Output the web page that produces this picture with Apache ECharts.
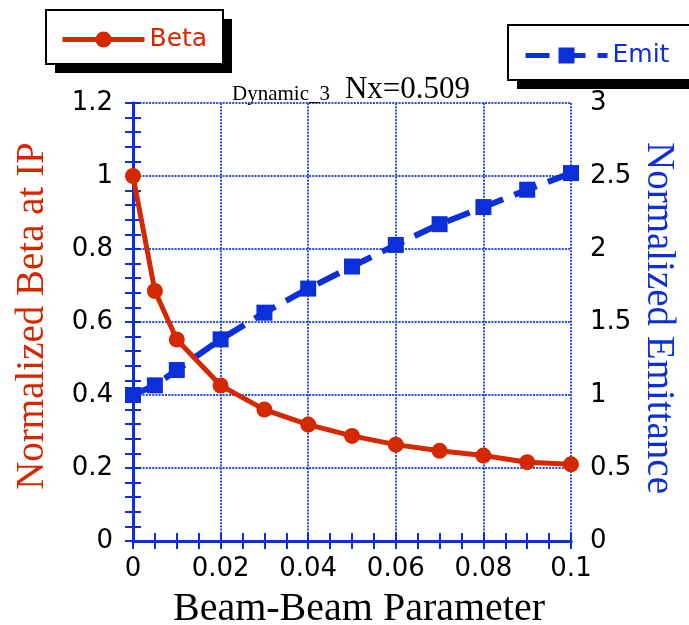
<!DOCTYPE html>
<html>
<head>
<meta charset="utf-8">
<script src="https://cdn.jsdelivr.net/npm/echarts@6/dist/echarts.min.js"></script>
<style>
  html, body { margin: 0; padding: 0; background: #ffffff; }
  #chart { width: 689px; height: 625px; }
</style>
</head>
<body>
<div id="chart"></div>
<script>
// Beam-beam parameter scan points
const beamBeam = [0, 0.005, 0.01, 0.02, 0.03, 0.04, 0.05, 0.06, 0.07, 0.08, 0.09, 0.1];
// Normalized beta at the IP (left axis)
const betaValues = [1.0, 0.685, 0.552, 0.426, 0.360, 0.319, 0.288, 0.264, 0.247, 0.234, 0.216, 0.210];
// Normalized emittance (right axis)
const emitValues = [1.0, 1.066, 1.171, 1.381, 1.564, 1.729, 1.880, 2.028, 2.170, 2.287, 2.406, 2.520];

const xTicks = [0, 0.02, 0.04, 0.06, 0.08, 0.1];
const betaTicks = [0, 0.2, 0.4, 0.6, 0.8, 1, 1.2];
const emitTicks = [0, 0.5, 1, 1.5, 2, 2.5, 3];

const RED = '#d42800';
const BLUE = '#0b2fd8';
const GRID_BLUE = '#2a4ce2';
const SERIF = '"Liberation Serif", "Times New Roman", serif';
const SANS = '"DejaVu Sans", Verdana, sans-serif';

const pairs = (xs, ys) => xs.map((x, i) => [x, ys[i]]);

const frameLine = { show: true, lineStyle: { color: BLUE, width: 3 } };
const innerTicks = { show: true, inside: true, length: 8, lineStyle: { color: BLUE, width: 2 } };
const minorInner = (n) => ({ show: true, splitNumber: n, length: 8, lineStyle: { color: BLUE, width: 2 } });
const dottedGrid = { show: true, lineStyle: { color: GRID_BLUE, width: 2, type: [2, 1.2] } };

// Boxed legend frame with a hard black drop shadow
function legendFrame(x, y, w, h) {
  return [
    { type: 'rect', z: 0, silent: true, shape: { x: x + 9, y: y + 9, width: w, height: h }, style: { fill: '#000000' } },
    { type: 'rect', z: 1, silent: true, shape: { x: x, y: y, width: w, height: h }, style: { fill: '#ffffff', stroke: '#000000', lineWidth: 2 } }
  ];
}

const legendCommon = {
  padding: 0,
  itemWidth: 82,
  itemHeight: 20,
  itemGap: 6,
  z: 10,
  lineStyle: { width: 5 }
};

const chart = echarts.init(document.getElementById('chart'), null, { renderer: 'canvas' });

chart.setOption({
  backgroundColor: '#ffffff',
  animation: false,
  title: {
    text: '{a|Dynamic_3}   {b|Nx=0.509}',
    left: 227,
    top: 69,
    textStyle: {
      fontWeight: 'normal',
      rich: {
        a: { fontFamily: SERIF, fontSize: 21, fontWeight: 'normal', color: '#000', verticalAlign: 'bottom' },
        b: { fontFamily: SERIF, fontSize: 31, fontWeight: 'normal', color: '#000', verticalAlign: 'bottom' }
      }
    }
  },
  graphic: [].concat(legendFrame(46, 10, 177, 54), legendFrame(508, 25, 200, 55)),
  legend: [
    Object.assign({}, legendCommon, {
      data: ['Beta'],
      left: 60,
      top: 27,
      textStyle: { color: RED, fontFamily: SANS, fontSize: 25 }
    }),
    Object.assign({}, legendCommon, {
      data: ['Emit'],
      left: 523,
      top: 43,
      textStyle: { color: BLUE, fontFamily: SANS, fontSize: 25 }
    })
  ],
  grid: {
    left: 133,
    right: 118,
    top: 103,
    bottom: 84,
    containLabel: false,
    outerBoundsMode: 'none'
  },
  xAxis: [
    {
      type: 'value',
      position: 'bottom',
      min: xTicks[0],
      max: xTicks[xTicks.length - 1],
      interval: 0.02,
      name: 'Beam-Beam Parameter',
      nameLocation: 'middle',
      nameGap: 48,
      nameMoveOverlap: false,
      nameTextStyle: { fontFamily: SERIF, fontSize: 40, color: '#000', padding: [0, 0, 0, 14] },
      axisLine: frameLine,
      axisTick: innerTicks,
      minorTick: minorInner(4),
      splitLine: dottedGrid,
      axisLabel: {
        margin: 15,
        fontFamily: SANS,
        fontSize: 26,
        color: '#000',
        formatter: (v) => String(Math.round(v * 100) / 100)
      }
    },
    {
      type: 'value',
      position: 'top',
      min: xTicks[0],
      max: xTicks[xTicks.length - 1],
      interval: 0.02,
      axisLine: frameLine,
      axisTick: innerTicks,
      minorTick: minorInner(4),
      splitLine: { show: false },
      axisLabel: { show: false }
    }
  ],
  yAxis: [
    {
      type: 'value',
      position: 'left',
      min: betaTicks[0],
      max: betaTicks[betaTicks.length - 1],
      interval: 0.2,
      name: 'Normalized Beta at IP',
      nameLocation: 'middle',
      nameRotate: 90,
      nameGap: 81,
      nameMoveOverlap: false,
      nameTextStyle: { fontFamily: SERIF, fontSize: 39, color: RED, padding: [0, 0, 0, 12] },
      axisLine: frameLine,
      axisTick: innerTicks,
      minorTick: minorInner(5),
      splitLine: dottedGrid,
      axisLabel: {
        margin: 20,
        fontFamily: SANS,
        fontSize: 26,
        color: '#000',
        formatter: (v) => String(Math.round(v * 10) / 10)
      }
    },
    {
      type: 'value',
      position: 'right',
      min: emitTicks[0],
      max: emitTicks[emitTicks.length - 1],
      interval: 0.5,
      name: 'Normalized Emittance',
      nameLocation: 'middle',
      nameRotate: -90,
      nameGap: 68,
      nameMoveOverlap: false,
      nameTextStyle: { fontFamily: SERIF, fontSize: 39, color: BLUE, padding: [0, 8, 0, 0] },
      axisLine: frameLine,
      axisTick: innerTicks,
      minorTick: minorInner(5),
      splitLine: { show: false },
      axisLabel: {
        margin: 19,
        fontFamily: SANS,
        fontSize: 26,
        color: '#000',
        formatter: (v) => String(Math.round(v * 10) / 10)
      }
    }
  ],
  series: [
    {
      name: 'Emit',
      type: 'line',
      xAxisIndex: 0,
      yAxisIndex: 1,
      data: pairs(beamBeam, emitValues),
      symbol: 'rect',
      symbolSize: 16,
      color: BLUE,
      lineStyle: { color: BLUE, width: 6, type: [24, 12] },
      itemStyle: { color: BLUE },
      z: 3
    },
    {
      name: 'Beta',
      type: 'line',
      xAxisIndex: 0,
      yAxisIndex: 0,
      data: pairs(beamBeam, betaValues),
      symbol: 'circle',
      symbolSize: 16,
      color: RED,
      lineStyle: { color: RED, width: 5 },
      itemStyle: { color: RED },
      z: 4
    }
  ]
});
</script>
</body>
</html>
